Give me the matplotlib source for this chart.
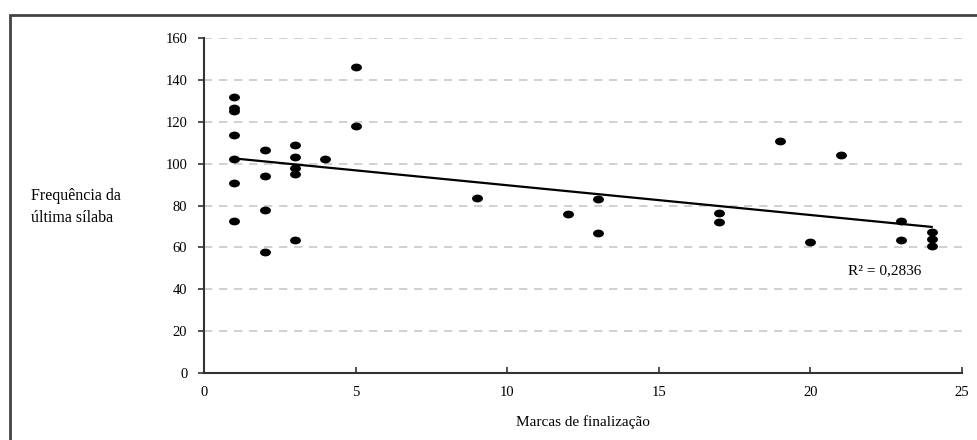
import numpy as np
import matplotlib
matplotlib.use("Agg")
import matplotlib.pyplot as plt
from matplotlib.path import Path
from matplotlib.transforms import Affine2D
from matplotlib.patches import Rectangle

# Data
marcas = [1, 1, 1, 1, 1, 1, 1,
          2, 2, 2, 2,
          3, 3, 3, 3, 3,
          4,
          5, 5,
          9,
          12,
          13, 13,
          17, 17,
          19,
          20,
          21,
          23, 23,
          24, 24, 24]
frequencia = [132, 126.5, 125, 113.5, 102, 90.7, 72.6,
              106.7, 94, 78, 58,
              109, 103, 98, 95.2, 63.6,
              102,
              146, 118,
              83.5,
              76,
              83.2, 66.7,
              76.5, 72.2,
              111,
              62.4,
              104,
              72.8, 63.4,
              67.2, 64.2, 60.8]
r2_label = "R² = 0,2836"
x_ticks = [0, 5, 10, 15, 20, 25]
y_ticks = [0, 20, 40, 60, 80, 100, 120, 140, 160]
x_label = "Marcas de finalização"
y_label = "Frequência da\núltima sílaba"

serif = ["Liberation Serif", "DejaVu Serif"]
plt.rcParams["font.family"] = serif

fig = plt.figure(figsize=(9.78, 4.40), dpi=100)
# outer frame
fig.patches.append(Rectangle((10 / 978, -0.05), 1.2, (440 - 15) / 440 + 0.05,
                             transform=fig.transFigure, fill=False,
                             edgecolor="#444444", linewidth=2.0))

ax = fig.add_axes([204 / 978, 1 - 373 / 440, (962 - 204) / 978, (373 - 38) / 440])
ax.set_xlim(0, 25)
ax.set_ylim(0, 160)

for yv in y_ticks[1:]:
    ax.axhline(yv, color="#c8c8c8", linewidth=1.2, linestyle=(0, (5, 4)), zorder=0)

ell = Path.unit_circle().transformed(Affine2D().scale(1.4, 1.0))
ax.scatter(marcas, frequencia, marker=ell, s=62, color="black", zorder=3, linewidths=0)

xa = np.array(marcas, dtype=float)
ya = np.array(frequencia, dtype=float)
slope, intercept = np.polyfit(xa, ya, 1)
xs = np.array([xa.min(), xa.max()])
ax.plot(xs, slope * xs + intercept, color="black", linewidth=1.6, zorder=2)

ax.text(21.24, 49, r2_label, fontsize=11, va="center", ha="left")

for s in ["top", "right"]:
    ax.spines[s].set_visible(False)
for s in ["left", "bottom"]:
    ax.spines[s].set_color("#333333")
    ax.spines[s].set_linewidth(1.5)

ax.set_xticks(x_ticks)
ax.set_yticks(y_ticks)
ax.tick_params(axis="x", direction="in", length=4, width=1.2, labelsize=10.5, pad=9, color="#333333")
ax.tick_params(axis="y", direction="out", length=4, width=1.2, labelsize=10.5, pad=8, color="#333333")

ax.set_xlabel(x_label, fontsize=11, labelpad=12)
fig.text(31 / 978, 1 - 207 / 440, y_label, fontsize=11.5, ha="left", va="center",
         linespacing=1.45)

fig.savefig("out.png", dpi=100)
